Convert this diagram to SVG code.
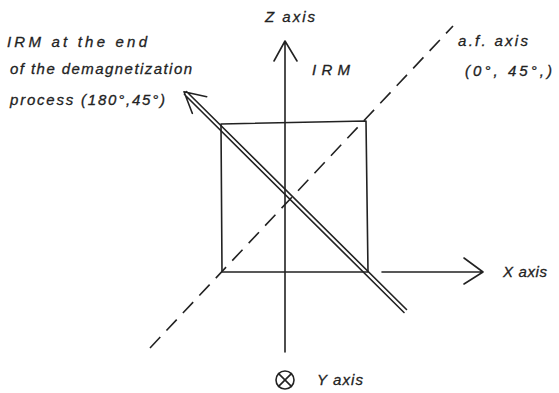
<svg xmlns="http://www.w3.org/2000/svg" width="559" height="393" viewBox="0 0 559 393">
<style>
.ln{fill:none;stroke:#222;stroke-width:1.6;stroke-linecap:round;stroke-linejoin:round}
.ds{fill:none;stroke:#222;stroke-width:1.6;stroke-dasharray:15 9}
text{font-family:"Liberation Sans",Arial,sans-serif;font-style:italic;font-size:15px;fill:#222;stroke:#222;stroke-width:0.3}
</style>
<rect width="559" height="393" fill="#fff"/>
<g id="connectors">
<path id="af-axis" class="ds" d="M150,348 L453,26"/>
<path id="z-axis" class="ln" d="M285,352 L285,41 M274,61 L285,41 L297,61"/>
<path id="x-axis" class="ln" d="M382,272 L483,272 M464,258 L483,272 L464,284"/>
<path id="irm-end" class="ln" d="M186.5,91.5 L406.5,309.5 M184.5,94.5 L404,312.5 M192.3,113.3 L184,91.7 L206.7,96.7"/>
</g>
<g id="square">
<path class="ln" d="M221,124 L366,121 L368,272 L222,272 Z"/>
</g>
<g id="label-z"><text x="265" y="22" textLength="50" lengthAdjust="spacing">Z axis</text></g>
<g id="label-irm"><text x="312" y="75" textLength="38" lengthAdjust="spacing">IRM</text></g>
<g id="label-irm-end">
<text x="7" y="47" textLength="140" lengthAdjust="spacing">IRM at the end</text>
<text x="10" y="74" textLength="182" lengthAdjust="spacing">of the demagnetization</text>
<text x="10" y="105" textLength="155" lengthAdjust="spacing">process (180°,45°)</text>
</g>
<g id="label-af">
<text x="458" y="46" textLength="70" lengthAdjust="spacing">a.f. axis</text>
<text x="465" y="76" textLength="87" lengthAdjust="spacing">(0°, 45°,)</text>
</g>
<g id="label-x"><text x="503" y="277" textLength="44" lengthAdjust="spacing">X axis</text></g>
<g id="label-y">
<circle cx="285" cy="380" r="9" class="ln" stroke-width="2"/>
<path class="ln" d="M278.6,373.6 L291.4,386.4 M291.4,373.6 L278.6,386.4" stroke-width="2"/>
<text x="317" y="385" textLength="46" lengthAdjust="spacing">Y axis</text>
</g>
</svg>
